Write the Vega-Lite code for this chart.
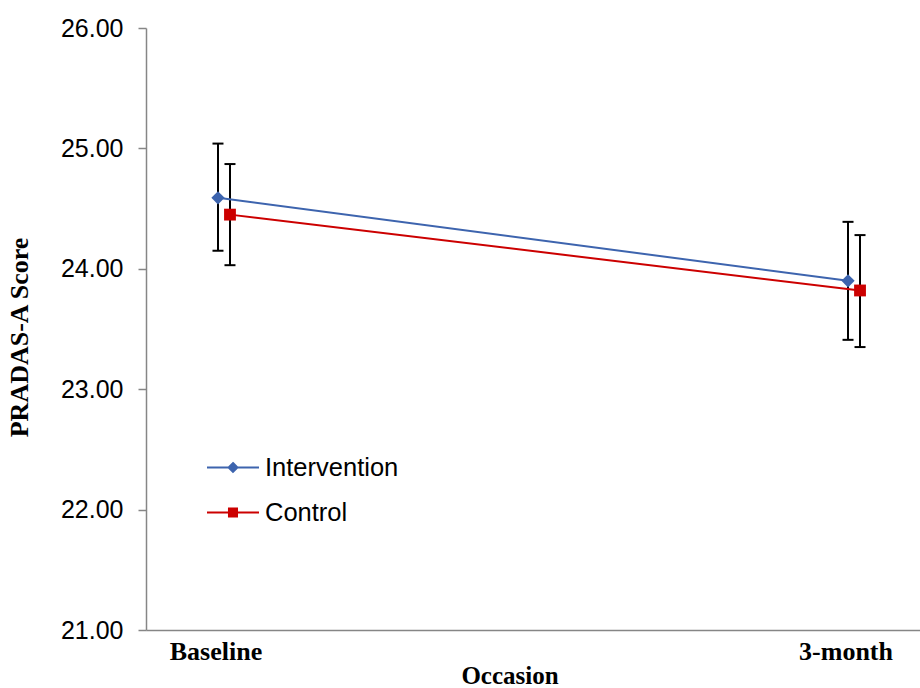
{
  "$schema": "https://vega.github.io/schema/vega-lite/v6.json",
  "width": 774,
  "height": 602,
  "autosize": {"type": "none"},
  "padding": {"left": 146, "top": 28, "right": 0, "bottom": 58},
  "background": "white",
  "config": {"view": {"stroke": null}},
  "data": {
    "values": [
      {"occasion": "Baseline", "group": "Intervention", "mean": 24.59, "lo": 24.15, "hi": 25.04},
      {"occasion": "Baseline", "group": "Control", "mean": 24.45, "lo": 24.03, "hi": 24.87},
      {"occasion": "3-month", "group": "Intervention", "mean": 23.90, "lo": 23.41, "hi": 24.39},
      {"occasion": "3-month", "group": "Control", "mean": 23.82, "lo": 23.35, "hi": 24.28}
    ]
  },
  "encoding": {
    "x": {
      "field": "occasion",
      "type": "nominal",
      "sort": ["Baseline", "3-month"],
      "scale": {"paddingInner": 0.9619, "paddingOuter": 0.0952, "align": 0.55},
      "axis": {
        "title": "Occasion",
        "labelAngle": 0,
        "ticks": false,
        "tickSize": 0,
        "domainColor": "#868686",
        "domainWidth": 1.5,
        "labelFont": "Liberation Serif",
        "labelFontWeight": "bold",
        "labelFontSize": 26,
        "labelColor": "black",
        "labelBaseline": "alphabetic",
        "labelPadding": 29,
        "labelOffset": -8,
        "titleFont": "Liberation Serif",
        "titleFontWeight": "bold",
        "titleFontSize": 25,
        "titleColor": "black",
        "titleX": 363.5,
        "titleY": 53,
        "titleAlign": "center",
        "titleBaseline": "alphabetic"
      }
    },
    "xOffset": {
      "field": "group",
      "type": "nominal",
      "sort": ["Intervention", "Control"],
      "scale": {"paddingInner": 0, "paddingOuter": 0}
    }
  },
  "layer": [
    {
      "mark": {"type": "rule", "color": "black", "strokeWidth": 2},
      "encoding": {
        "y": {"field": "lo", "type": "quantitative"},
        "y2": {"field": "hi"}
      }
    },
    {
      "mark": {"type": "tick", "color": "black", "size": 11, "thickness": 2, "opacity": 1},
      "encoding": {"y": {"field": "lo", "type": "quantitative"}}
    },
    {
      "mark": {"type": "tick", "color": "black", "size": 11, "thickness": 2, "opacity": 1},
      "encoding": {"y": {"field": "hi", "type": "quantitative"}}
    },
    {
      "mark": {"type": "line", "strokeWidth": 2},
      "encoding": {
        "y": {"field": "mean", "type": "quantitative"},
        "color": {
          "field": "group",
          "type": "nominal",
          "scale": {"domain": ["Intervention", "Control"], "range": ["#3D64AE", "#CC0000"]},
          "legend": null
        }
      }
    },
    {
      "mark": {"type": "point", "filled": true, "opacity": 1, "size": 140, "strokeWidth": 0},
      "encoding": {
        "y": {
          "field": "mean",
          "type": "quantitative",
          "scale": {"domain": [21, 26], "nice": false, "zero": false},
          "axis": {
            "title": "PRADAS-A Score",
            "values": [21, 22, 23, 24, 25, 26],
            "format": ".2f",
            "grid": false,
            "domainColor": "#868686",
            "domainWidth": 1.5,
            "tickColor": "#868686",
            "tickWidth": 1.5,
            "tickSize": 8,
            "labelFont": "Liberation Sans",
            "labelFontSize": 25,
            "labelColor": "black",
            "labelPadding": 15,
            "titleFont": "Liberation Serif",
            "titleFontWeight": "bold",
            "titleFontSize": 26,
            "titleColor": "black",
            "titleAngle": -90,
            "titleX": -119,
            "titleY": 309,
            "titleAlign": "center",
            "titleBaseline": "alphabetic"
          }
        },
        "color": {
          "field": "group",
          "type": "nominal",
          "scale": {"domain": ["Intervention", "Control"], "range": ["#3D64AE", "#CC0000"]},
          "legend": null
        },
        "shape": {
          "field": "group",
          "type": "nominal",
          "scale": {
            "domain": ["Intervention", "Control"],
            "range": ["M-1.12,0L0,-1.12L1.12,0L0,1.12Z", "M-1,-1H1V1H-1Z"]
          },
          "legend": null
        }
      }
    },
    {
      "transform": [{"filter": "false"}],
      "mark": {"type": "point", "filled": true, "strokeWidth": 2},
      "encoding": {
        "fill": {
          "field": "group",
          "type": "nominal",
          "scale": {"domain": ["Intervention", "Control"], "range": ["#3D64AE", "#CC0000"]},
          "legend": null
        },
        "stroke": {
          "field": "group",
          "type": "nominal",
          "scale": {"domain": ["Intervention", "Control"], "range": ["#3D64AE", "#CC0000"]},
          "legend": null
        },
        "shape": {
          "field": "group",
          "type": "nominal",
          "scale": {
            "domain": ["Intervention", "Control"],
            "range": [
              "M-2,0H2M0,-0.34L0.34,0L0,0.34L-0.34,0Z",
              "M-2,0H2M-0.31,-0.31H0.31V0.31H-0.31Z"
            ]
          },
          "legend": {
            "title": null,
            "orient": "none",
            "legendX": 73,
            "legendY": 425.5,
            "padding": 0,
            "symbolSize": 676,
            "symbolStrokeWidth": 2,
            "symbolOpacity": 1,
            "labelFont": "Liberation Sans",
            "labelFontSize": 25.5,
            "labelColor": "black",
            "labelOffset": 18,
            "rowPadding": 17,
            "labelLimit": 300
          }
        }
      }
    }
  ],
  "resolve": {"scale": {"shape": "independent", "fill": "independent", "stroke": "independent"}}
}
